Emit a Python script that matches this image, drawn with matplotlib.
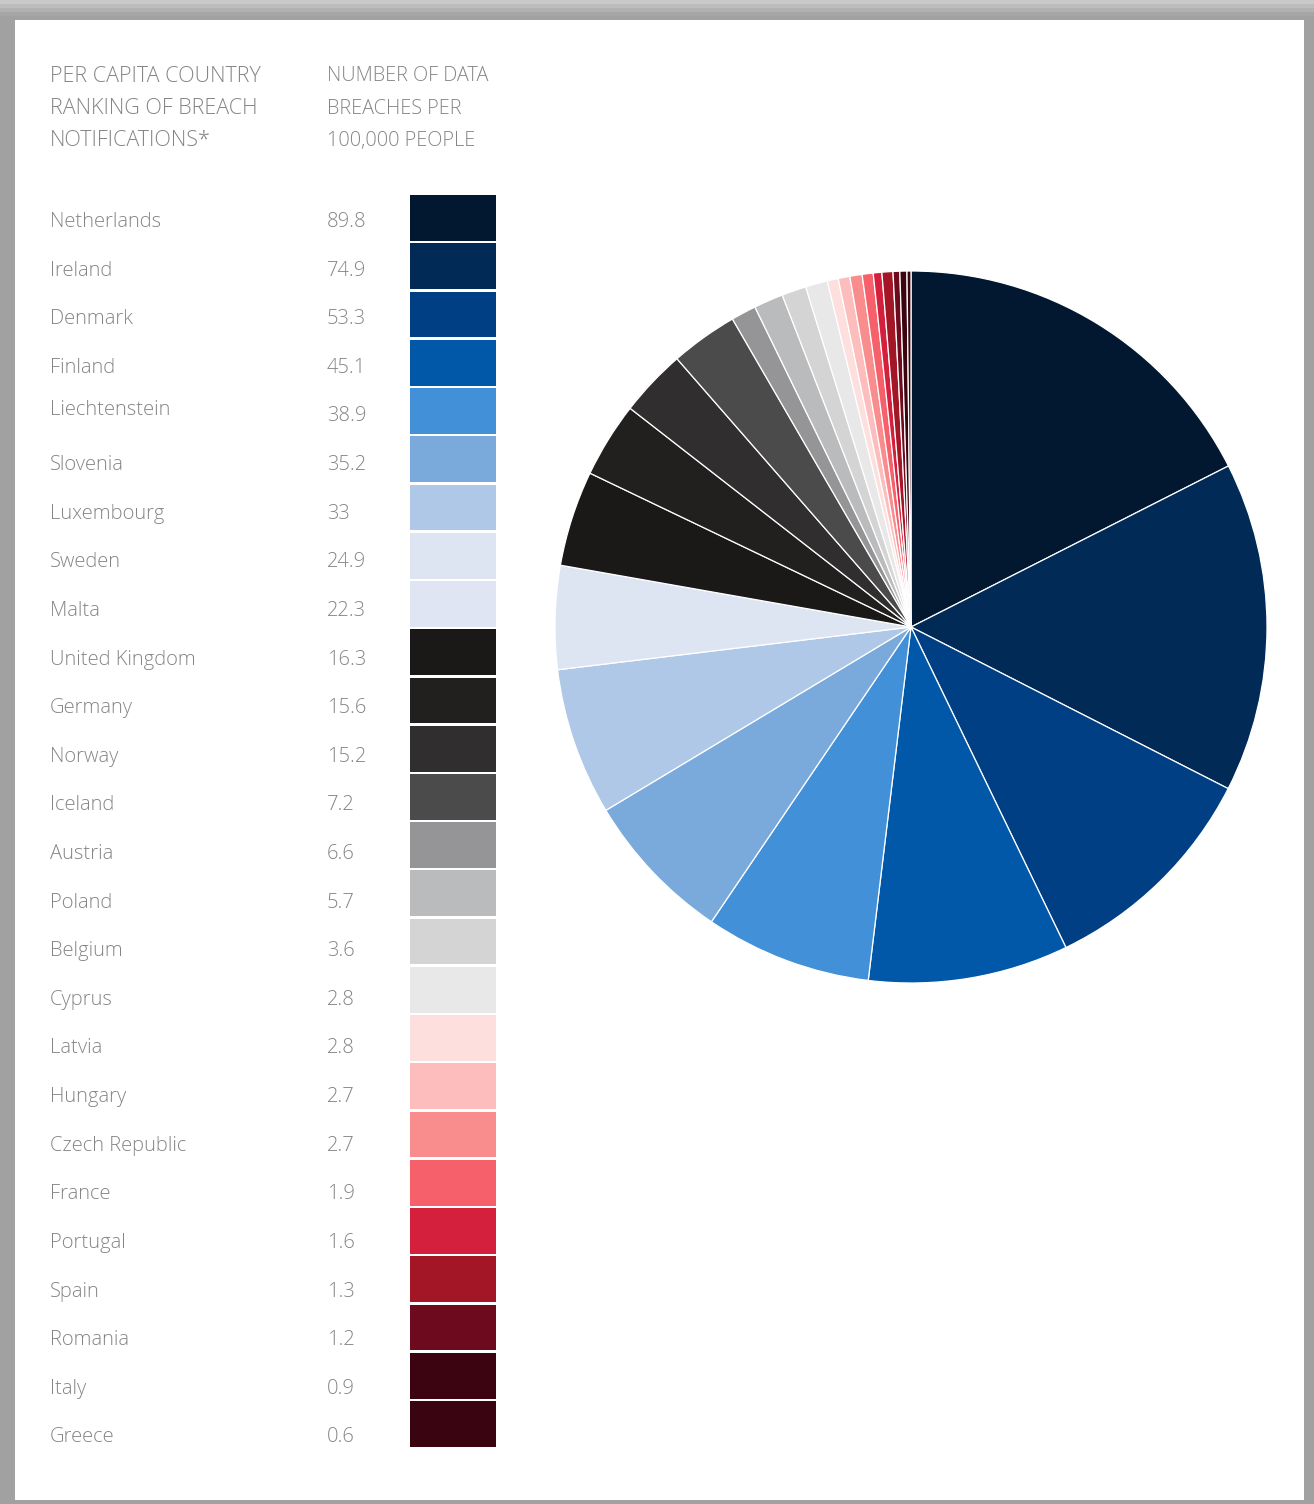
import matplotlib
matplotlib.use("Agg")
import matplotlib.pyplot as plt
from matplotlib.patches import Rectangle

# данные с картинки
countries = ["Netherlands", "Ireland", "Denmark", "Finland", "Liechtenstein",
             "Slovenia", "Luxembourg", "Sweden", "Malta", "United Kingdom",
             "Germany", "Norway", "Iceland", "Austria", "Poland", "Belgium",
             "Cyprus", "Latvia", "Hungary", "Czech Republic", "France",
             "Portugal", "Spain", "Romania", "Italy", "Greece"]
value_labels = ["89.8", "74.9", "53.3", "45.1", "38.9", "35.2", "33", "24.9",
                "22.3", "16.3", "15.6", "15.2", "7.2", "6.6", "5.7", "3.6",
                "2.8", "2.8", "2.7", "2.7", "1.9", "1.6", "1.3", "1.2", "0.9",
                "0.6"]
colors = ["#011830", "#012a57", "#013f84", "#0157a8", "#4190d8", "#7aaadc",
          "#afc8e8", "#dde4f2", "#dfe5f3", "#1b1918", "#221f1f", "#302e2e",
          "#4c4b4c", "#959597", "#babbbd", "#d4d4d5", "#e8e8e9", "#fde0de",
          "#fdbdbc", "#f98d8e", "#f6606b", "#d41f3d", "#a31626", "#6e0a1e",
          "#3c0410", "#3a0410"]

# доли секторов круга так, как они нарисованы (в градусах, по картинке);
# в круге один светлый сектор на Sweden/Malta, поэтому секторов 25
pie_shares = [63.1, 53.9, 37.2, 32.7, 27.2, 24.9, 24.1, 16.9, 15.6, 12.3,
              11.0, 11.0, 4.1, 4.8, 4.0, 3.6, 1.8, 1.9, 2.0, 1.8, 1.4, 1.8,
              1.1, 1.15, 0.65]
pie_colors = colors[:8] + colors[9:]

header_left = ["PER CAPITA COUNTRY", "RANKING OF BREACH", "NOTIFICATIONS*"]
header_right = ["NUMBER OF DATA", "BREACHES PER", "100,000 PEOPLE"]

W, H = 1314, 1504
plt.rcParams['font.family'] = ['Open Sans', 'DejaVu Sans']
fig = plt.figure(figsize=(W / 100, H / 100), dpi=100)
fig.patch.set_facecolor("#a1a1a1")

# серая рамка с лёгкой тенью сверху и белая "страница"
for k, c in enumerate(["#c9c9c9", "#bdbdbd", "#b1b1b1", "#a6a6a6"]):
    fig.patches.append(Rectangle((0, 1 - (k + 1) * 4 / H), 1, 4 / H,
                                 transform=fig.transFigure, facecolor=c,
                                 edgecolor="none", zorder=-6))
fig.patches.append(Rectangle((15 / W, 1 - 1500 / H), (1304 - 15) / W, (1500 - 20) / H,
                             transform=fig.transFigure, facecolor="white",
                             edgecolor="none", zorder=-5))

txt_color = "#858585"
for i in range(3):
    yy = 1 - (76 + i * 32.5) / H
    fig.text(50 / W, yy, header_left[i], fontsize=15.5, color=txt_color,
             va="center", fontweight="light")
    fig.text(327 / W, yy, header_right[i], fontsize=14.3, color=txt_color,
             va="center", fontweight="light")

# список стран и цветные плашки
top, bot = 194, 1448
ax = fig.add_axes([0, 1 - bot / H, 520 / W, (bot - top) / H])
ax.patch.set_visible(False)
n = len(countries)
ax.barh(range(n), [86] * n, left=410, height=0.95, color=colors)
ax.set_xlim(0, 520)
ax.set_ylim(n - 0.5, -0.5)
ax.axis("off")
for i in range(n):
    y = i + 0.08 + i * 0.008
    dy = -0.13 if countries[i] == "Liechtenstein" else 0
    ax.text(50, y + dy, countries[i], fontsize=14.5, color=txt_color,
            va="center", fontweight="light")
    ax.text(327, y, value_labels[i], fontsize=14.5, color=txt_color,
            va="center", fontweight="light")

# круговая диаграмма
cx, cy, r = 911, 627, 356
ax2 = fig.add_axes([(cx - r) / W, 1 - (cy + r) / H, 2 * r / W, 2 * r / H])
ax2.patch.set_visible(False)
ax2.pie(pie_shares, colors=pie_colors, startangle=90, counterclock=False, radius=1,
        wedgeprops=dict(edgecolor="white", linewidth=0.9))
ax2.set_xlim(-1, 1)
ax2.set_ylim(-1, 1)
ax2.set_aspect("auto")

fig.savefig("out.png", dpi=100, facecolor=fig.get_facecolor())
